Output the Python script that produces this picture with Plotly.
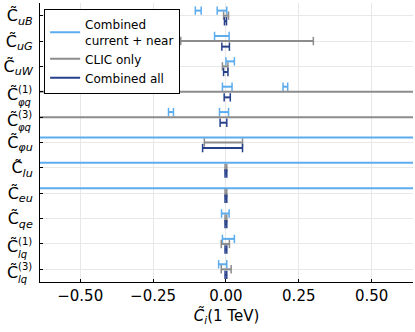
import plotly.graph_objects as go

# coefficient rows, top to bottom
coeffs = ["uB", "uG", "uW", "φq(1)", "φq(3)", "φu", "lu", "eu", "qe", "lq(1)", "lq(3)"]
tick_sub = ["uB", "uG", "uW", "φq", "φq", "φu", "lu", "eu", "qe", "lq", "lq"]
tick_sup = ["", "", "", "(1)", "(3)", "", "", "", "", "(1)", "(3)"]

# intervals per series: (coefficient, low, high); ±1 means off the plotted range
near_rows = ["uB", "uB", "uG", "uW", "φq(1)", "φq(1)", "φq(3)", "φq(3)", "φu", "lu", "eu", "qe", "lq(1)", "lq(3)"]
near_lo = [-0.105, -0.030, -0.039, 0.000, -0.012, 0.196, -0.197, -0.022, -1.0, -1.0, -1.0, -0.015, -0.012, -0.025]
near_hi = [-0.085, 0.003, 0.011, 0.029, 0.021, 0.212, -0.180, 0.009, 1.0, 1.0, 1.0, 0.011, 0.029, 0.003]

clic_rows = ["uB", "uG", "uW", "φq(1)", "φq(3)", "φu", "lu", "eu", "qe", "lq(1)", "lq(3)"]
clic_lo = [-0.008, -0.155, -0.012, -1.0, -1.0, -0.074, -0.003, -0.003, -0.003, -0.016, -0.016]
clic_hi = [0.009, 0.300, 0.007, 1.0, 1.0, 0.057, 0.003, 0.003, 0.003, 0.012, 0.018]

all_rows = ["uB", "uG", "uW", "φq(1)", "φq(3)", "φu", "lu", "eu", "qe", "lq(1)", "lq(3)"]
all_lo = [-0.005, -0.014, -0.008, -0.006, -0.020, -0.080, -0.003, -0.003, -0.003, -0.003, -0.003]
all_hi = [0.002, 0.012, 0.007, 0.015, 0.003, 0.057, 0.003, 0.003, 0.003, 0.003, 0.003]

series = [
    ("Combined<br>current + near", near_rows, near_lo, near_hi, "#5cacee", -0.2),
    ("CLIC only", clic_rows, clic_lo, clic_hi, "#8c8c8c", 0.0),
    ("Combined all", all_rows, all_lo, all_hi, "#27408b", 0.22),
]

FONT = "DejaVu Sans"
fig = go.Figure()

for name, rows, lo, hi, color, off in series:
    xs, ys, cx, cy = [], [], [], []
    for r, a, b in zip(rows, lo, hi):
        yv = coeffs.index(r) + 1 + off
        xs += [a, b, None]
        ys += [yv, yv, None]
        cx += [a, b]
        cy += [yv, yv]
    fig.add_trace(go.Scatter(x=xs, y=ys, mode="lines", name=name, legendgroup=name,
                             line=dict(color=color, width=2)))
    fig.add_trace(go.Scatter(x=cx, y=cy, mode="markers", showlegend=False, legendgroup=name,
                             marker=dict(symbol="line-ns", size=6,
                                         line=dict(color=color, width=1.5))))

# plain labels go on the axis; labels with both super- and subscript are stacked by hand
ticktext = []
for i, (sub, sup) in enumerate(zip(tick_sub, tick_sup)):
    if not sup:
        ticktext.append("C̃<sub><i>%s</i></sub>" % sub)
        continue
    ticktext.append("")
    fig.add_annotation(text="C̃", xref="paper", yref="y", x=0, y=i + 1,
                       xanchor="right", yanchor="middle", xshift=-20, yshift=-3,
                       showarrow=False, font=dict(family=FONT, size=16, color="black"))
    fig.add_annotation(text="%s<br><i>%s</i>" % (sup, sub), xref="paper", yref="y", x=0, y=i + 1,
                       xanchor="right", yanchor="middle", align="left", xshift=-6, yshift=-4,
                       showarrow=False, font=dict(family=FONT, size=10, color="black"))

fig.update_layout(
    width=415, height=332,
    margin=dict(l=40, r=2, t=3, b=50),
    paper_bgcolor="white", plot_bgcolor="white",
    font=dict(family=FONT, color="black"),
    showlegend=True,
    legend=dict(x=0.011, y=0.978, xanchor="left", yanchor="top",
                bgcolor="white", bordercolor="black", borderwidth=1,
                font=dict(family=FONT, size=12), tracegroupgap=0),
)
fig.update_xaxes(
    range=[-0.638, 0.642], automargin=False,
    tickvals=[-0.5, -0.25, 0, 0.25, 0.5], tickformat=".2f",
    ticks="inside", ticklen=3, tickcolor="black",
    showline=True, linecolor="black", linewidth=1,
    showgrid=True, gridcolor="#e8e8e8", zeroline=False,
    tickfont=dict(family=FONT, size=15),
    title=dict(text="<i>C̃<sub>i</sub></i>(1 TeV)", font=dict(family=FONT, size=15), standoff=6),
)
fig.update_yaxes(
    range=[11.5, 0.5], automargin=False,
    tickvals=list(range(1, 12)), ticktext=ticktext,
    ticks="inside", ticklen=3, tickcolor="black", ticklabelstandoff=3,
    showline=True, linecolor="black", linewidth=1,
    showgrid=True, gridcolor="#e8e8e8", zeroline=False,
    tickfont=dict(family=FONT, size=16),
)

# the page's default body margin would push the figure 8px off the window
fig.write_html("out.html", config={"displayModeBar": False},
               post_script="document.body.style.margin='0px';")
